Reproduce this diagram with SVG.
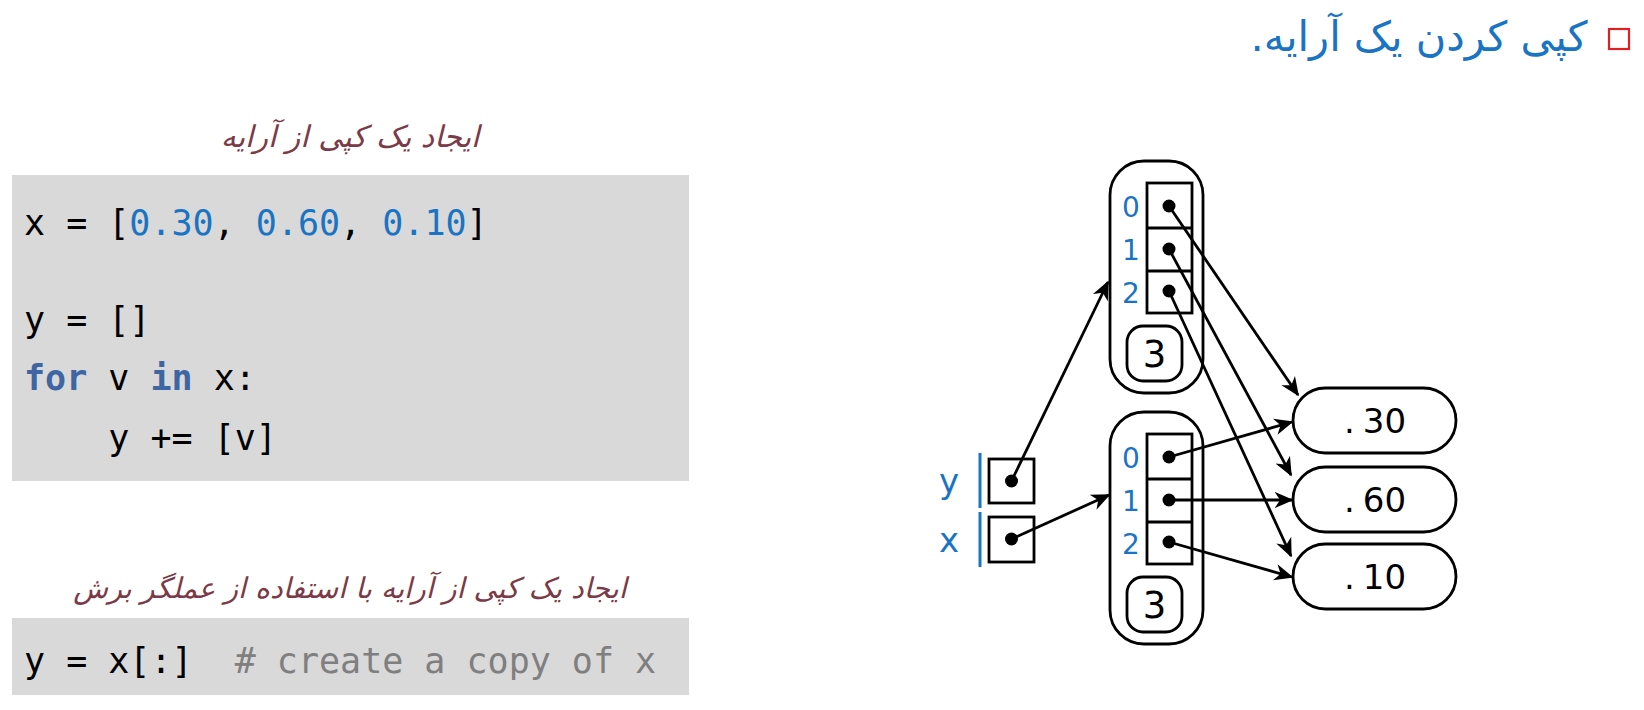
<svg xmlns="http://www.w3.org/2000/svg" width="1644" height="710" viewBox="0 0 1644 710">
<defs>
<style>
.code{font-family:"DejaVu Sans Mono","Liberation Mono",monospace;font-size:35px;fill:#000;white-space:pre}
.num{fill:#1a74c4}
.kw{fill:#3d66a3;font-weight:bold}
.cmt{fill:#7f7f7f}
.fa{font-family:"DejaVu Sans","Noto Sans",sans-serif;font-style:italic;font-size:30px;fill:#7b3a48}
.fa2{font-size:28.5px}
.panel{fill:#d9d9d9}
.box{fill:#fff;stroke:#000;stroke-width:2.8}
.cell{fill:none;stroke:#000;stroke-width:2.8}
.idx{font-family:"DejaVu Sans","Open Sans",sans-serif;font-size:28px;fill:#1a74c4;text-anchor:middle}
.val{font-family:"DejaVu Sans","Open Sans",sans-serif;font-size:34px;fill:#000;text-anchor:middle}
.len{font-family:"DejaVu Sans","Open Sans",sans-serif;font-size:37px;fill:#000;text-anchor:middle}
.var{font-family:"DejaVu Sans","Open Sans",sans-serif;font-size:34px;fill:#1a74c4;text-anchor:middle}
.dot{fill:#000}
.arr{fill:none;stroke:#000;stroke-width:2.8;marker-end:url(#ah)}
</style>
<marker id="ah" viewBox="0 0 12 12" refX="11" refY="6" markerWidth="19" markerHeight="19" markerUnits="userSpaceOnUse" orient="auto">
<path d="M0,0.8 L12,6 L0,11.2 L3.5,6 z" fill="#000"/>
</marker>
</defs>
<rect width="1644" height="710" fill="#fff"/>

<g id="title">
<rect x="1609" y="29" width="20" height="20" fill="none" stroke="#e02020" stroke-width="2.2"/>
<text x="1419" y="51" direction="rtl" text-anchor="middle" font-family="DejaVu Sans, Noto Sans, sans-serif" font-size="41.5" fill="#1a74c4">کپی کردن یک آرایه.</text>
</g>

<g id="code1">
<text class="fa" x="350" y="147" text-anchor="middle" direction="rtl">ایجاد یک کپی از آرایه</text>
<rect class="panel" x="12" y="175" width="677" height="306"/>
<text class="code" x="24" y="235">x = [<tspan class="num">0.30</tspan>, <tspan class="num">0.60</tspan>, <tspan class="num">0.10</tspan>]</text>
<text class="code" x="24" y="332">y = []</text>
<text class="code" x="24" y="390"><tspan class="kw">for</tspan> v <tspan class="kw">in</tspan> x:</text>
<text class="code" x="24" y="450">    y += [v]</text>
</g>

<g id="code2">
<text class="fa fa2" x="350" y="598" text-anchor="middle" direction="rtl">ایجاد یک کپی از آرایه با استفاده از عملگر برش</text>
<rect class="panel" x="12" y="618" width="677" height="77"/>
<text class="code" x="24" y="673">y = x[:]  <tspan class="cmt"># create a copy of x</tspan></text>
</g>

<g id="var-y">
<text class="var" x="949" y="493">y</text>
<line x1="980" y1="453" x2="980" y2="508" stroke="#1a74c4" stroke-width="3"/>
<rect class="box" x="989" y="459" width="45" height="44"/>
<circle class="dot" cx="1011.5" cy="481" r="6.5"/>
</g>

<g id="var-x">
<text class="var" x="949" y="552">x</text>
<line x1="980" y1="512" x2="980" y2="567" stroke="#1a74c4" stroke-width="3"/>
<rect class="box" x="989" y="517" width="45" height="45"/>
<circle class="dot" cx="1011.5" cy="539" r="6.5"/>
</g>

<g id="array-y">
<rect class="box" x="1110" y="161" width="93" height="232" rx="34" ry="34"/>
<rect class="cell" x="1147" y="183" width="45" height="130"/>
<line class="cell" x1="1147" y1="228" x2="1192" y2="228"/>
<line class="cell" x1="1147" y1="271" x2="1192" y2="271"/>
<text class="idx" x="1131" y="217">0</text>
<text class="idx" x="1131" y="260">1</text>
<text class="idx" x="1131" y="303">2</text>
<circle class="dot" cx="1169" cy="206" r="6.5"/>
<circle class="dot" cx="1169" cy="249" r="6.5"/>
<circle class="dot" cx="1169" cy="291" r="6.5"/>
<rect class="box" x="1127" y="326" width="55" height="55" rx="16" ry="16"/>
<text class="len" x="1154.5" y="367">3</text>
</g>

<g id="array-x">
<rect class="box" x="1110" y="412" width="93" height="232" rx="34" ry="34"/>
<rect class="cell" x="1147" y="434" width="45" height="130"/>
<line class="cell" x1="1147" y1="479" x2="1192" y2="479"/>
<line class="cell" x1="1147" y1="522" x2="1192" y2="522"/>
<text class="idx" x="1131" y="468">0</text>
<text class="idx" x="1131" y="511">1</text>
<text class="idx" x="1131" y="554">2</text>
<circle class="dot" cx="1169" cy="457" r="6.5"/>
<circle class="dot" cx="1169" cy="500" r="6.5"/>
<circle class="dot" cx="1169" cy="542" r="6.5"/>
<rect class="box" x="1127" y="577" width="55" height="55" rx="16" ry="16"/>
<text class="len" x="1154.5" y="618">3</text>
</g>

<g id="val-30">
<rect class="box" x="1293" y="388" width="163" height="65" rx="32.5" ry="32.5"/>
<text class="val" x="1375" y="433">.<tspan dx="8">30</tspan></text>
</g>
<g id="val-60">
<rect class="box" x="1293" y="467" width="163" height="65" rx="32.5" ry="32.5"/>
<text class="val" x="1375" y="512">.<tspan dx="8">60</tspan></text>
</g>
<g id="val-10">
<rect class="box" x="1293" y="544" width="163" height="65" rx="32.5" ry="32.5"/>
<text class="val" x="1375" y="589">.<tspan dx="8">10</tspan></text>
</g>

<g id="connectors">
<line class="arr" x1="1011.5" y1="481" x2="1108" y2="282"/>
<line class="arr" x1="1011.5" y1="539" x2="1109" y2="495"/>
<line class="arr" x1="1169" y1="457" x2="1292" y2="422"/>
<line class="arr" x1="1169" y1="500" x2="1292" y2="500"/>
<line class="arr" x1="1169" y1="542" x2="1292" y2="577"/>
<line class="arr" x1="1169" y1="206" x2="1298" y2="395"/>
<line class="arr" x1="1169" y1="249" x2="1291" y2="475"/>
<line class="arr" x1="1169" y1="291" x2="1291" y2="556"/>
</g>
</svg>
